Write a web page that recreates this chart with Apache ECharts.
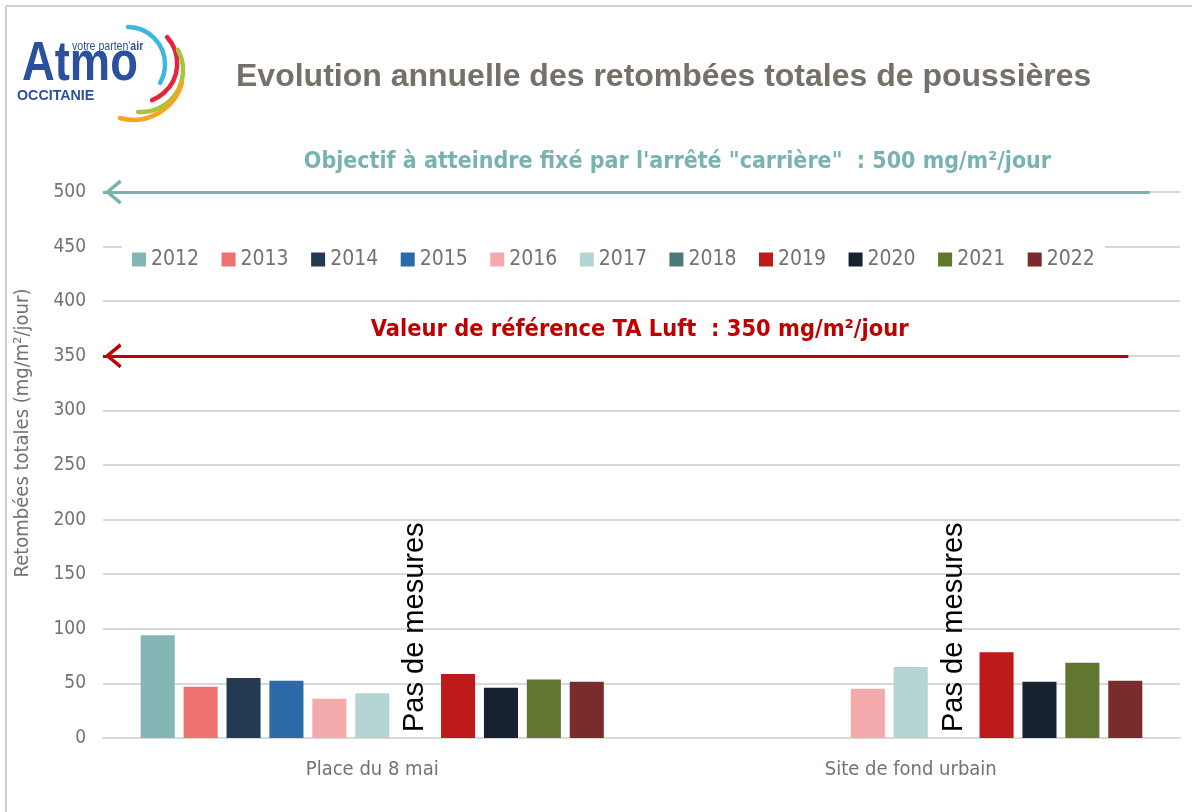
<!DOCTYPE html>
<html>
<head>
<meta charset="utf-8">
<script src="https://cdn.jsdelivr.net/npm/echarts@6/dist/echarts.min.js"></script>
<style>
  html, body { margin: 0; padding: 0; background: #fff; }
  #chart { width: 1192px; height: 812px; }
</style>
</head>
<body>
<div id="chart"></div>
<script>
// ---- Data ----
const categories = ['Place du 8 mai', 'Site de fond urbain'];
const years = ['2012', '2013', '2014', '2015', '2016', '2017', '2018', '2019', '2020', '2021', '2022'];
const v2012 = [94, null];
const v2013 = [47, null];
const v2014 = [55, null];
const v2015 = [52.5, null];
const v2016 = [36, 45];
const v2017 = [41, 65];
const v2018 = [0, 0];          // no measurement ("Pas de mesures")
const v2019 = [58.5, 78.5];
const v2020 = [46, 51.5];
const v2021 = [53.5, 69];
const v2022 = [51.5, 52.5];
const yTicks = { min: 0, max: 500, interval: 50 };
const objectiveValue = 500;
const referenceValue = 350;
const objectiveLabel = 'Objectif à atteindre fixé par l\'arrêté "carrière"  : 500 mg/m²/jour';
const referenceLabel = 'Valeur de référence TA Luft  : 350 mg/m²/jour';
const noMeasureText = 'Pas de mesures';

const seriesValues = [v2012, v2013, v2014, v2015, v2016, v2017, v2018, v2019, v2020, v2021, v2022];
const colors = ['#83b6b5', '#ee7370', '#243a52', '#2d6aa8', '#f4aaaa', '#b5d5d5', '#4a7a77', '#be1a1a', '#16222f', '#61762f', '#7a2c2c'];

const NARROW = "'Liberation Sans Narrow', 'DejaVu Sans Condensed', 'Liberation Sans', sans-serif";
const ARIAL = "'Liberation Sans', Arial, sans-serif";
const GRAY = '#767171';
const LOGO_BLUE = '#2b50a0';

const chart = echarts.init(document.getElementById('chart'), null, { renderer: 'canvas' });

// open chevron arrow head; the leading move-to pads the box so the tip sits at the line start
const chevron = 'path://M10,-23 M10,0 L20,17 L17.5,19 L10,6 L2.5,19 L0,17 Z';

const barSeries = years.map((y, i) => {
  const s = {
    name: y,
    type: 'bar',
    data: seriesValues[i],
    itemStyle: { color: colors[i] },
    barGap: '26%',
    barCategoryGap: '14%',
    emphasis: { disabled: true }
  };
  if (y === '2018') {
    s.label = {
      show: true,
      formatter: noMeasureText,
      position: 'insideBottom',
      rotate: 90,
      align: 'left',
      verticalAlign: 'middle',
      distance: 6,
      fontSize: 29,
      color: '#000',
      fontFamily: ARIAL
    };
  }
  return s;
});

const refSeries = {
  name: 'ref',
  type: 'scatter',
  xAxisIndex: 1,
  data: [],
  silent: true,
  markLine: {
    silent: true,
    symbol: [chevron, 'none'],
    symbolSize: [25, 37],
    data: [
      [
        { coord: [0, objectiveValue], lineStyle: { color: '#78b3b1', width: 3, type: 'solid' },
          label: { show: true, position: 'middle', formatter: objectiveLabel, color: '#78b3b1',
            fontSize: 23, fontWeight: 'bold', fontFamily: NARROW, distance: 18, padding: [0, 0, 0, 102] } },
        { coord: [0.972, objectiveValue] }
      ],
      [
        { coord: [0, referenceValue], lineStyle: { color: '#c00000', width: 3, type: 'solid' },
          label: { show: true, position: 'middle', formatter: referenceLabel, color: '#c00000',
            fontSize: 23.4, fontWeight: 'bold', fontFamily: NARROW, distance: 14, padding: [0, 0, 0, 48] } },
        { coord: [0.952, referenceValue] }
      ]
    ]
  }
};

const option = {
  backgroundColor: '#fff',
  animation: false,
  color: colors,
  title: {
    text: 'Evolution annuelle des retombées totales de poussières',
    left: 231,
    top: 56,
    textStyle: { fontSize: 32, fontWeight: 'bold', color: '#767069', fontFamily: ARIAL }
  },
  legend: {
    data: years,
    left: 122,
    top: 239,
    padding: [10, 10],
    backgroundColor: '#fff',
    itemWidth: 14,
    itemHeight: 14,
    itemGap: 22.5,
    icon: 'rect',
    textStyle: { fontSize: 21, color: GRAY, fontFamily: NARROW }
  },
  grid: { left: 103, right: 12, top: 192, bottom: 74, containLabel: false },
  xAxis: [
    {
      type: 'category',
      data: categories,
      axisLine: { show: true, lineStyle: { color: '#d9d9d9', width: 2 } },
      axisTick: { show: false },
      axisLabel: { color: GRAY, fontSize: 20, fontFamily: NARROW, margin: 22 }
    },
    {
      type: 'value',
      min: 0,
      max: 1,
      show: false
    }
  ],
  yAxis: {
    type: 'value',
    min: yTicks.min,
    max: yTicks.max,
    interval: yTicks.interval,
    name: 'Retombées totales (mg/m²/jour)',
    nameLocation: 'middle',
    nameGap: 70,
    nameTextStyle: { color: GRAY, fontSize: 20, fontFamily: NARROW, padding: [0, 0, 0, 64] },
    axisLine: { show: false },
    axisTick: { show: false },
    axisLabel: { color: GRAY, fontSize: 19, fontFamily: NARROW, margin: 17 },
    splitLine: { lineStyle: { color: '#d9d9d9', width: 2 } }
  },
  graphic: [
    { type: 'line', shape: { x1: 6, y1: 6, x2: 6, y2: 812 }, style: { stroke: '#d0d0d0', lineWidth: 2 }, silent: true },
    { type: 'line', shape: { x1: 6, y1: 6, x2: 1192, y2: 6 }, style: { stroke: '#d0d0d0', lineWidth: 2 }, silent: true },
    { type: 'text', x: 22, y: 37, scaleX: 0.81, style: { text: 'Atmo', font: "bold 56px 'Liberation Sans', Arial, sans-serif", fill: LOGO_BLUE } },
    { type: 'text', x: 17, y: 88, scaleX: 0.95, style: { text: 'OCCITANIE', font: "bold 15px 'Liberation Sans', Arial, sans-serif", fill: LOGO_BLUE } },
    { type: 'text', x: 72, y: 41, scaleX: 0.88, style: { rich: { a: { fontSize: 12, fontFamily: ARIAL, fill: LOGO_BLUE }, b: { fontSize: 12, fontWeight: 'bold', fontFamily: ARIAL, fill: LOGO_BLUE } }, text: "{a|votre parten'}{b|air}" } },
    { type: 'arc', shape: { cx: 127.7, cy: 64.3, r: 37.3, startAngle: -1.56, endAngle: 0.52 }, style: { stroke: '#3cb6e3', lineWidth: 4.5, fill: null, lineCap: 'round' } },
    { type: 'arc', shape: { cx: 137.8, cy: 63.4, r: 39.4, startAngle: -0.73, endAngle: 1.2 }, style: { stroke: '#e3253f', lineWidth: 4.5, fill: null, lineCap: 'round' } },
    { type: 'arc', shape: { cx: 141.1, cy: 70.1, r: 42.0, startAngle: -0.5, endAngle: 1.64 }, style: { stroke: '#a4c63a', lineWidth: 4.5, fill: null, lineCap: 'round' } },
    { type: 'arc', shape: { cx: 133.4, cy: 69.3, r: 50.5, startAngle: 0.27, endAngle: 1.84 }, style: { stroke: '#f6a523', lineWidth: 4.5, fill: null, lineCap: 'round' } }
  ],
  series: barSeries.concat([refSeries])
};

chart.setOption(option);
</script>
</body>
</html>
